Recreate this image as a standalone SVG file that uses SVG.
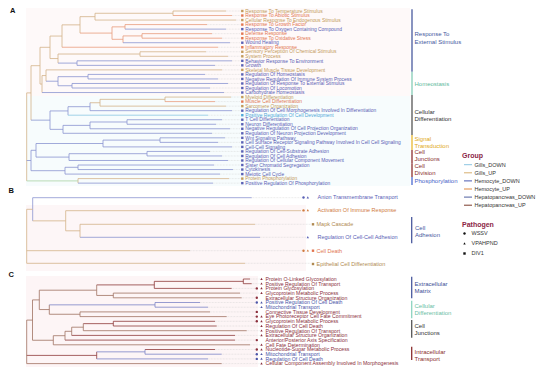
<svg xmlns="http://www.w3.org/2000/svg" width="550" height="371" viewBox="0 0 550 371">
<style>
text{font-family:"Liberation Sans",Arial,sans-serif}
.la{font-size:4.9px}
.lb{font-size:5.5px}
.lc{font-size:5.2px}
.cat{font-size:6px}
.leg{font-size:5.5px;fill:#333}
.ttl{font-size:7px;font-weight:bold;fill:#8b2545}
.pl{font-size:7.5px;font-weight:bold;fill:#111}
.br{fill:none;stroke-width:0.8}
.gu{stroke:#d3b389}.hu{stroke:#e89c7c}.hd{stroke:#8a94d0}.gd{stroke:#8cc6e2}.gr{stroke:#a9d3a4}
.cr{stroke:#8e3a3a}.cb{stroke:#a07262}.cbl{stroke:#7c84c6}
.dot{fill:none;stroke:#c4c4c4;stroke-width:0.4;stroke-dasharray:0.8 0.7}
.fgu{fill:#c39a5a}.fhu{fill:#e27550}.fhd{fill:#5960b5}.fgd{fill:#4fa8d8}.fhpu{fill:#8b2f3c}.fhpd{fill:#4b55a8}.fbo{fill:#cf7a3e}.fbt{fill:#b08a52}
.bar{stroke-width:1.3}
</style>
<defs>
<rect id="sq" x="-1.2" y="-1.2" width="2.4" height="2.4"/>
<circle id="ci" r="1.2"/>
<path id="tri" d="M0,-1.3L1.2,0.9L-1.2,0.9Z"/>
</defs>
<rect width="550" height="371" fill="#fff"/>
<g id="backgrounds">
<rect x="26" y="8" width="384" height="88" fill="#fef9f9"/>
<rect x="26" y="96" width="384" height="90" fill="#f7fcfd"/>
<rect x="26" y="205" width="280" height="66" fill="#fdf6f7"/>
<rect x="26" y="276" width="232" height="91" fill="#fdf5f6"/>
</g>
<g id="panel-labels">
<text class="pl" x="10" y="12.8">A</text>
<text class="pl" x="8.5" y="193.3">B</text>
<text class="pl" x="8.5" y="277.3">C</text>
</g>
<g id="connectors">
<path class="br gu" d="M173 11H226M95 20.06H236M140 51.77H206M140 56.3H228M46 69.89H222M165 97.07H231M100 106.13H226M78 178.61H229M173 11V15.53M95 13.27H173M95 13.27V20.06M80 16.66H95M80 16.66V33.08M62 24.87H80M62 24.87V47.24M50 36.05H62M50 36.05V58.56M140 51.77V56.3M58 54.03H140M58 54.03V63.1M50 58.56H58M40 47.3H50M40 47.3V84.05M31 65.7H40M31 65.7V120.15M26.7 92.9H31M26.7 92.9V180.9M46 69.89V81.21M42 75.55H46M42 75.55V92.54M40 84.05H42M165 97.07V101.6M100 99.34H165M100 99.34V106.13M90 102.74H100M78 178.61V183.14"/>
<path class="br hu" d="M173 15.53H232M125 24.59H207M142 33.65H212M142 38.18H222M62 47.24H218M165 101.6H215M125 24.59V29.12M112 26.86H125M142 33.65V38.18M123 35.92H142M123 35.92V42.71M112 39.31H123M112 26.86V39.31M80 33.08H112"/>
<path class="br hd" d="M125 29.12H226M123 42.71H230M77 60.83H232M77 65.36H215M88 74.42H205M88 78.95H218M72 83.48H228M72 88.01H210M42 92.54H224M90 110.66H232M127 119.72H222M127 124.25H216M90 128.78H230M63 133.31H212M160 137.84H225M160 142.37H218M103 146.9H232M147 151.43H210M147 155.96H222M69 160.49H228M78 165.02H214M78 169.55H233M65 174.08H220M78 183.14H213M77 60.83V65.36M58 63.1H77M88 74.42V78.95M58 76.68H88M72 83.48V88.01M58 85.74H72M58 76.68V85.74M46 81.21H58M90 102.74V110.66M68 106.7H90M68 106.7V115.19M50 110.95H68M127 119.72V124.25M90 121.99H127M90 121.99V128.78M63 125.38H90M63 125.38V133.31M50 129.35H63M50 110.95V129.35M31 120.15H50M160 137.84V142.37M103 140.1H160M103 140.1V146.9M36 143.5H103M147 151.43V155.96M69 153.7H147M69 153.7V160.49M36 157.1H69M36 143.5V157.1M31 150.3H36M78 165.02V169.55M65 167.3H78M65 167.3V174.08M31 170.7H65M31 150.3V170.7M26.7 160.5H31"/>
<path class="br gd" d="M68 115.19H208"/>
<path class="br gr" d="M26.7 180.9H78"/>
<path class="dot" d="M226 11H240.5M232 15.53H240.5M236 20.06H240.5M207 24.59H240.5M226 29.12H240.5M212 33.65H240.5M222 38.18H240.5M230 42.71H240.5M218 47.24H240.5M206 51.77H240.5M228 56.3H240.5M232 60.83H240.5M215 65.36H240.5M222 69.89H240.5M205 74.42H240.5M218 78.95H240.5M228 83.48H240.5M210 88.01H240.5M224 92.54H240.5M231 97.07H240.5M215 101.6H240.5M226 106.13H240.5M232 110.66H240.5M208 115.19H240.5M222 119.72H240.5M216 124.25H240.5M230 128.78H240.5M212 133.31H240.5M225 137.84H240.5M218 142.37H240.5M232 146.9H240.5M210 151.43H240.5M222 155.96H240.5M228 160.49H240.5M214 165.02H240.5M233 169.55H240.5M220 174.08H240.5M229 178.61H240.5M213 183.14H240.5"/>
<path class="br hd" d="M32.7 197.7H251.7M32.7 197.7V220.85M80 237.3H260"/>
<path class="br gu" d="M26.7 209.3H32.7M32.7 220.85H65.7M65.7 210.7V230.8M65.7 210.7H301M65.7 230.8H80M80 224.3V237.3M80 224.3H255M26.7 209.3V263.3M26.7 250.7H190M26.7 263.3H245"/>
<path class="dot" d="M251.7 197.7H301.5M255 224.3H311M260 237.3H306M190 250.7H301.5M245 263.3H311"/>
<path class="br cr" d="M243.3 279H250M243.3 283.7H251.7M243.3 279V283.7M154.3 288.4H231.7M113.3 321.3H215M113.3 326H216.7M71.7 335.4H235M65 340.1H235M145 349.5H215M154.3 281.35H243.3M154.3 281.35V288.4M113.3 321.3V326M96.7 284.9H154.3M83.3 323.65H113.3M26.7 355.4H96.7M96.7 351.85V358.9"/>
<path class="br cb" d="M113.3 293.1H240M113.3 297.8H241.7M80 311.9H210M80 316.6H226.7M83.3 330.7H246.7M53.3 344.8H250M26.7 363.6H221.7M113.3 293.1V297.8M96.7 295.45H113.3M96.7 284.9V295.45M39.3 290.2H96.7M80 311.9V316.6M49.3 314.25H80M49.3 304.85V314.25M39.3 309.55H49.3M39.3 290.2V309.55M32.5 299.9H39.3M83.3 323.65V330.7M71.7 327.2H83.3M71.7 327.2V335.4M65 331.3H71.7M65 331.3V340.1M53.3 335.7H65M53.3 335.7V344.8M32.5 340.25H53.3M32.5 299.9V340.25M26.7 320.1H32.5M26.7 320.1V363.6"/>
<path class="br cbl" d="M155 302.5H200M155 307.2H208M155 302.5V307.2M49.3 304.85H155M145 354.2H221.7M96.7 358.9H208M145 349.5V354.2M96.7 351.85H145"/>
<path class="dot" d="M250 279H259.6M251.7 283.7H259.6M231.7 288.4H255M240 293.1H259.6M241.7 297.8H255M200 302.5H255M208 307.2H259.6M210 311.9H255M226.7 316.6H255M215 321.3H255M216.7 326H259.6M246.7 330.7H259.6M235 335.4H259.6M235 340.1H255M250 344.8H259.6M215 349.5H255M221.7 354.2H255M208 358.9H255M221.7 363.6H259.6"/>
</g>
<g id="panelA-leaves">
<g id="a0"><use href="#sq" x="242.3" y="11" class="fgu"/><text class="la fgu" x="245.3" y="12.7">Response To Temperature Stimulus</text></g>
<g id="a1"><use href="#sq" x="242.3" y="15.53" class="fhu"/><text class="la fhu" x="245.3" y="17.23">Response To Abiotic Stimulus</text></g>
<g id="a2"><use href="#sq" x="242.3" y="20.06" class="fgu"/><text class="la fgu" x="245.3" y="21.76">Cellular Response To Endogenous Stimulus</text></g>
<g id="a3"><use href="#sq" x="242.3" y="24.59" class="fhu"/><text class="la fhu" x="245.3" y="26.29">Response To Growth Factor</text></g>
<g id="a4"><use href="#sq" x="242.3" y="29.12" class="fhd"/><text class="la fhd" x="245.3" y="30.82">Response To Oxygen Containing Compound</text></g>
<g id="a5"><use href="#sq" x="242.3" y="33.65" class="fhu"/><text class="la fhu" x="245.3" y="35.35">Defense Response</text></g>
<g id="a6"><use href="#sq" x="242.3" y="38.18" class="fhu"/><text class="la fhu" x="245.3" y="39.88">Response To Oxidative Stress</text></g>
<g id="a7"><use href="#sq" x="242.3" y="42.71" class="fhd"/><text class="la fhd" x="245.3" y="44.41">Wound Healing</text></g>
<g id="a8"><use href="#sq" x="242.3" y="47.24" class="fhu"/><text class="la fhu" x="245.3" y="48.94">Inflammatory Response</text></g>
<g id="a9"><use href="#sq" x="242.3" y="51.77" class="fgu"/><text class="la fgu" x="245.3" y="53.47">Sensory Perception Of Chemical Stimulus</text></g>
<g id="a10"><use href="#sq" x="242.3" y="56.3" class="fgu"/><text class="la fgu" x="245.3" y="58">System Process</text></g>
<g id="a11"><use href="#sq" x="242.3" y="60.83" class="fhd"/><text class="la fhd" x="245.3" y="62.53">Behavior Response To Environment</text></g>
<g id="a12"><use href="#sq" x="242.3" y="65.36" class="fhd"/><text class="la fhd" x="245.3" y="67.06">Growth</text></g>
<g id="a13"><use href="#sq" x="242.3" y="69.89" class="fgu"/><text class="la fgu" x="245.3" y="71.59">Skeletal Muscle Tissue Development</text></g>
<g id="a14"><use href="#sq" x="242.3" y="74.42" class="fhd"/><text class="la fhd" x="245.3" y="76.12">Regulation Of Homeostasis</text></g>
<g id="a15"><use href="#sq" x="242.3" y="78.95" class="fhd"/><text class="la fhd" x="245.3" y="80.65">Negative Regulation Of Immune System Process</text></g>
<g id="a16"><use href="#sq" x="242.3" y="83.48" class="fhd"/><text class="la fhd" x="245.3" y="85.18">Regulation Of Response To External Stimulus</text></g>
<g id="a17"><use href="#sq" x="242.3" y="88.01" class="fhd"/><text class="la fhd" x="245.3" y="89.71">Regulation Of Locomotion</text></g>
<g id="a18"><use href="#sq" x="242.3" y="92.54" class="fhd"/><text class="la fhd" x="245.3" y="94.24">Carbohydrate Homeostasis</text></g>
<g id="a19"><use href="#sq" x="242.3" y="97.07" class="fgu"/><text class="la fgu" x="245.3" y="98.77">Myeloid Differentiation</text></g>
<g id="a20"><use href="#sq" x="242.3" y="101.6" class="fhu"/><text class="la fhu" x="245.3" y="103.3">Muscle Cell Differentiation</text></g>
<g id="a21"><use href="#sq" x="242.3" y="106.13" class="fgu"/><text class="la fgu" x="245.3" y="107.83">Sarcomere Organization</text></g>
<g id="a22"><use href="#sq" x="242.3" y="110.66" class="fhd"/><text class="la fhd" x="245.3" y="112.36">Regulation Of Cell Morphogenesis Involved In Differentiation</text></g>
<g id="a23"><use href="#sq" x="242.3" y="115.19" class="fgd"/><text class="la fgd" x="245.3" y="116.89">Positive Regulation Of Cell Development</text></g>
<g id="a24"><use href="#sq" x="242.3" y="119.72" class="fhd"/><text class="la fhd" x="245.3" y="121.42">T Cell Differentiation</text></g>
<g id="a25"><use href="#sq" x="242.3" y="124.25" class="fhd"/><text class="la fhd" x="245.3" y="125.95">Neuron Differentiation</text></g>
<g id="a26"><use href="#sq" x="242.3" y="128.78" class="fhd"/><text class="la fhd" x="245.3" y="130.48">Negative Regulation Of Cell Projection Organization</text></g>
<g id="a27"><use href="#sq" x="242.3" y="133.31" class="fhd"/><text class="la fhd" x="245.3" y="135.01">Regulation Of Neuron Projection Development</text></g>
<g id="a28"><use href="#sq" x="242.3" y="137.84" class="fhd"/><text class="la fhd" x="245.3" y="139.54">Wnt Signaling Pathway</text></g>
<g id="a29"><use href="#sq" x="242.3" y="142.37" class="fhd"/><text class="la fhd" x="245.3" y="144.07">Cell Surface Receptor Signaling Pathway Involved In Cell Cell Signaling</text></g>
<g id="a30"><use href="#sq" x="242.3" y="146.9" class="fhd"/><text class="la fhd" x="245.3" y="148.6">Cell-Cell Signaling</text></g>
<g id="a31"><use href="#sq" x="242.3" y="151.43" class="fhd"/><text class="la fhd" x="245.3" y="153.13">Regulation Of Cell-Substrate Adhesion</text></g>
<g id="a32"><use href="#sq" x="242.3" y="155.96" class="fhd"/><text class="la fhd" x="245.3" y="157.66">Regulation Of Cell Adhesion</text></g>
<g id="a33"><use href="#sq" x="242.3" y="160.49" class="fhd"/><text class="la fhd" x="245.3" y="162.19">Regulation Of Cellular Component Movement</text></g>
<g id="a34"><use href="#sq" x="242.3" y="165.02" class="fhd"/><text class="la fhd" x="245.3" y="166.72">Sister Chromatid Segregation</text></g>
<g id="a35"><use href="#sq" x="242.3" y="169.55" class="fhd"/><text class="la fhd" x="245.3" y="171.25">Cytokinesis</text></g>
<g id="a36"><use href="#sq" x="242.3" y="174.08" class="fhd"/><text class="la fhd" x="245.3" y="175.78">Meiotic Cell Cycle</text></g>
<g id="a37"><use href="#sq" x="242.3" y="178.61" class="fgu"/><text class="la fgu" x="245.3" y="180.31">Protein Phosphorylation</text></g>
<g id="a38"><use href="#sq" x="242.3" y="183.14" class="fhd"/><text class="la fhd" x="245.3" y="184.84">Positive Regulation Of Phosphorylation</text></g>
</g>
<g id="panelA-categories">
<g id="catA1"><line class="bar" x1="412" y1="9.3" x2="412" y2="71.7" stroke="#4a5a9e"/><text class="cat" x="414.5" y="36.4" fill="#4658a0">Response To</text><text class="cat" x="414.5" y="43.8" fill="#4658a0">External Stimulus</text></g>
<g id="catA2"><line class="bar" x1="412" y1="71.7" x2="412" y2="95" stroke="#86cdb6"/><text class="cat" x="414.5" y="85.8" fill="#5fb99c">Homeostasis</text></g>
<g id="catA3"><line class="bar" x1="412" y1="95" x2="412" y2="135" stroke="#555"/><text class="cat" x="414.5" y="114.4" fill="#333">Cellular</text><text class="cat" x="414.5" y="121.4" fill="#333">Differentiation</text></g>
<g id="catA4"><line class="bar" x1="412" y1="135" x2="412" y2="150" stroke="#e8b830"/><text class="cat" x="414.5" y="141.1" fill="#e0a820">Signal</text><text class="cat" x="414.5" y="148.1" fill="#e0a820">Transduction</text></g>
<g id="catA5"><line class="bar" x1="412" y1="150" x2="412" y2="163.5" stroke="#8b2e2e"/><text class="cat" x="414.5" y="154.4" fill="#8b2e2e">Cell</text><text class="cat" x="414.5" y="161.4" fill="#8b2e2e">Junctions</text></g>
<g id="catA6"><line class="bar" x1="412" y1="163.5" x2="412" y2="177" stroke="#8b2e2e"/><text class="cat" x="414.5" y="168.1" fill="#8b2e2e">Cell</text><text class="cat" x="414.5" y="175.1" fill="#8b2e2e">Division</text></g>
<g id="catA7"><line class="bar" x1="412" y1="177" x2="412" y2="185" stroke="#4a6ad0"/><text class="cat" x="414.5" y="182.8" fill="#4a62c8">Phosphorylation</text></g>
</g>
<g id="legend-group">
<text class="ttl" x="462" y="157.8">Group</text>
<g id="lg1"><line x1="464" y1="164.7" x2="472" y2="164.7" stroke="#8cc6e2" stroke-width="1"/><text class="leg" x="474.5" y="166.6">Gills_DOWN</text></g>
<g id="lg2"><line x1="464" y1="172.8" x2="472" y2="172.8" stroke="#d8b070" stroke-width="1"/><text class="leg" x="474.5" y="174.7">Gills_UP</text></g>
<g id="lg3"><line x1="464" y1="180.9" x2="472" y2="180.9" stroke="#4a5ab0" stroke-width="1"/><text class="leg" x="474.5" y="182.8">Hemocyte_DOWN</text></g>
<g id="lg4"><line x1="464" y1="189" x2="472" y2="189" stroke="#e08a40" stroke-width="1"/><text class="leg" x="474.5" y="190.9">Hemocyte_UP</text></g>
<g id="lg5"><line x1="464" y1="197.1" x2="472" y2="197.1" stroke="#5060a0" stroke-width="1"/><text class="leg" x="474.5" y="199">Hepatopancreas_DOWN</text></g>
<g id="lg6"><line x1="464" y1="205.2" x2="472" y2="205.2" stroke="#7a3a2a" stroke-width="1"/><text class="leg" x="474.5" y="207.1">Hepatopancreas_UP</text></g>
</g>
<g id="legend-pathogen">
<text class="ttl" x="462" y="226.8">Pathogen</text>
<g id="lp1"><use href="#ci" x="464.5" y="233.5" fill="#111"/><text class="leg" x="471.5" y="235.4">WSSV</text></g>
<g id="lp2"><use href="#tri" x="464.5" y="243.5" fill="#111"/><text class="leg" x="471.5" y="245.4">VPAHPND</text></g>
<g id="lp3"><use href="#sq" x="464.5" y="253.5" fill="#111"/><text class="leg" x="471.5" y="255.4">DIV1</text></g>
</g>
<g id="panelB-leaves">
<g id="b0"><use href="#ci" x="303.5" y="197.5" class="fhd"/><use href="#tri" x="307.8" y="197.5" class="fhd"/><text class="lb fhd" x="317.5" y="199.2">Anion Transmembrane Transport</text></g>
<g id="b1"><use href="#ci" x="303.5" y="210.4" class="fbo"/><use href="#tri" x="307.8" y="210.4" class="fbo"/><text class="lb fbo" x="317.5" y="212.2">Activation Of Immune Response</text></g>
<g id="b2"><use href="#sq" x="313" y="224.3" class="fbt"/><text class="lb fbt" x="316.5" y="226.2">Mapk Cascade</text></g>
<g id="b3"><use href="#tri" x="307.8" y="237.3" class="fhd"/><text class="lb fhd" x="317.5" y="239.2">Regulation Of Cell-Cell Adhesion</text></g>
<g id="b4"><use href="#ci" x="303.5" y="250.7" class="fbo"/><use href="#tri" x="307.8" y="250.7" class="fbo"/><use href="#sq" x="313" y="250.7" class="fhu"/><text class="lb fhu" x="316.5" y="252.6">Cell Death</text></g>
<g id="b5"><use href="#sq" x="313" y="264" class="fbt"/><text class="lb fbt" x="316.5" y="265.9">Epithelial Cell Differentiation</text></g>
</g>
<g id="panelB-category">
<line class="bar" x1="411.7" y1="217" x2="411.7" y2="243.3" stroke="#4a5a9e"/>
<text class="cat" x="415" y="230.4" fill="#4658a0">Cell</text>
<text class="cat" x="415" y="237.4" fill="#4658a0">Adhesion</text>
</g>
<g id="panelC-leaves">
<g id="c0"><use href="#tri" x="261.5" y="279" class="fhpu"/><text class="lc fhpu" x="265.5" y="280.8">Protein O-Linked Glycosylation</text></g>
<g id="c1"><use href="#tri" x="261.5" y="283.7" class="fhpu"/><text class="lc fhpu" x="265.5" y="285.5">Positive Regulation Of Transport</text></g>
<g id="c2"><use href="#ci" x="256.8" y="288.4" class="fhpu"/><use href="#tri" x="261.5" y="288.4" class="fhpu"/><text class="lc fhpu" x="265.5" y="290.2">Protein Glycosylation</text></g>
<g id="c3"><use href="#tri" x="261.5" y="293.1" class="fhpu"/><text class="lc fhpu" x="265.5" y="294.9">Glycoprotein Metabolic Process</text></g>
<g id="c4"><use href="#ci" x="256.8" y="297.8" class="fhpu"/><text class="lc fhpu" x="265.5" y="299.6">Extracellular Structure Organization</text></g>
<g id="c5"><use href="#ci" x="256.8" y="302.5" class="fhpd"/><use href="#tri" x="261.5" y="302.5" class="fhpd"/><text class="lc fhpd" x="265.5" y="304.3">Positive Regulation Of Cell Death</text></g>
<g id="c6"><use href="#tri" x="261.5" y="307.2" class="fhpd"/><text class="lc fhpd" x="265.5" y="309">Mitochondrial Transport</text></g>
<g id="c7"><use href="#ci" x="256.8" y="311.9" class="fhpu"/><text class="lc fhpu" x="265.5" y="313.7">Connective Tissue Development</text></g>
<g id="c8"><use href="#ci" x="256.8" y="316.6" class="fhpu"/><use href="#tri" x="261.5" y="316.6" class="fhpu"/><text class="lc fhpu" x="265.5" y="318.4">Eye Photoreceptor Cell Fate Commitment</text></g>
<g id="c9"><use href="#ci" x="256.8" y="321.3" class="fhpu"/><use href="#tri" x="261.5" y="321.3" class="fhpu"/><text class="lc fhpu" x="265.5" y="323.1">Glycoprotein Metabolic Process</text></g>
<g id="c10"><use href="#tri" x="261.5" y="326" class="fhpu"/><text class="lc fhpu" x="265.5" y="327.8">Regulation Of Cell Death</text></g>
<g id="c11"><use href="#tri" x="261.5" y="330.7" class="fhpu"/><text class="lc fhpu" x="265.5" y="332.5">Positive Regulation Of Transport</text></g>
<g id="c12"><use href="#tri" x="261.5" y="335.4" class="fhpu"/><text class="lc fhpu" x="265.5" y="337.2">Extracellular Structure Organization</text></g>
<g id="c13"><use href="#ci" x="256.8" y="340.1" class="fhpu"/><text class="lc fhpu" x="265.5" y="341.9">Anterior/Posterior Axis Specification</text></g>
<g id="c14"><use href="#tri" x="261.5" y="344.8" class="fhpu"/><text class="lc fhpu" x="265.5" y="346.6">Cell Fate Determination</text></g>
<g id="c15"><use href="#ci" x="256.8" y="349.5" class="fhpu"/><use href="#tri" x="261.5" y="349.5" class="fhpu"/><text class="lc fhpu" x="265.5" y="351.3">Nucleotide-Sugar Metabolic Process</text></g>
<g id="c16"><use href="#ci" x="256.8" y="354.2" class="fhpd"/><use href="#tri" x="261.5" y="354.2" class="fhpd"/><text class="lc fhpd" x="265.5" y="356">Mitochondrial Transport</text></g>
<g id="c17"><use href="#ci" x="256.8" y="358.9" class="fhpd"/><use href="#tri" x="261.5" y="358.9" class="fhpd"/><text class="lc fhpd" x="265.5" y="360.7">Regulation Of Cell Death</text></g>
<g id="c18"><use href="#tri" x="261.5" y="363.6" class="fhpu"/><text class="lc fhpu" x="265.5" y="365.4">Cellular Component Assembly Involved In Morphogenesis</text></g>
</g>
<g id="panelC-categories">
<g id="catC1"><line class="bar" x1="411.7" y1="276.7" x2="411.7" y2="298.3" stroke="#4a5a9e"/><text class="cat" x="414.5" y="286.1" fill="#3d4d96">Extracellular</text><text class="cat" x="414.5" y="293.1" fill="#3d4d96">Matrix</text></g>
<g id="catC2"><line class="bar" x1="411.7" y1="300.7" x2="411.7" y2="318.3" stroke="#8dd3bf"/><text class="cat" x="414.5" y="308.1" fill="#6cc0a5">Cellular</text><text class="cat" x="414.5" y="315.4" fill="#6cc0a5">Differentiation</text></g>
<g id="catC3"><line class="bar" x1="411.7" y1="320" x2="411.7" y2="337.7" stroke="#555"/><text class="cat" x="414.5" y="328.1" fill="#333">Cell</text><text class="cat" x="414.5" y="335.4" fill="#333">Junctions</text></g>
<g id="catC4"><line class="bar" x1="411.7" y1="346.7" x2="411.7" y2="360" stroke="#8b2e2e"/><text class="cat" x="414.5" y="353.8" fill="#8b2e2e">Intracellular</text><text class="cat" x="414.5" y="360.8" fill="#8b2e2e">Transport</text></g>
</g>
</svg>
